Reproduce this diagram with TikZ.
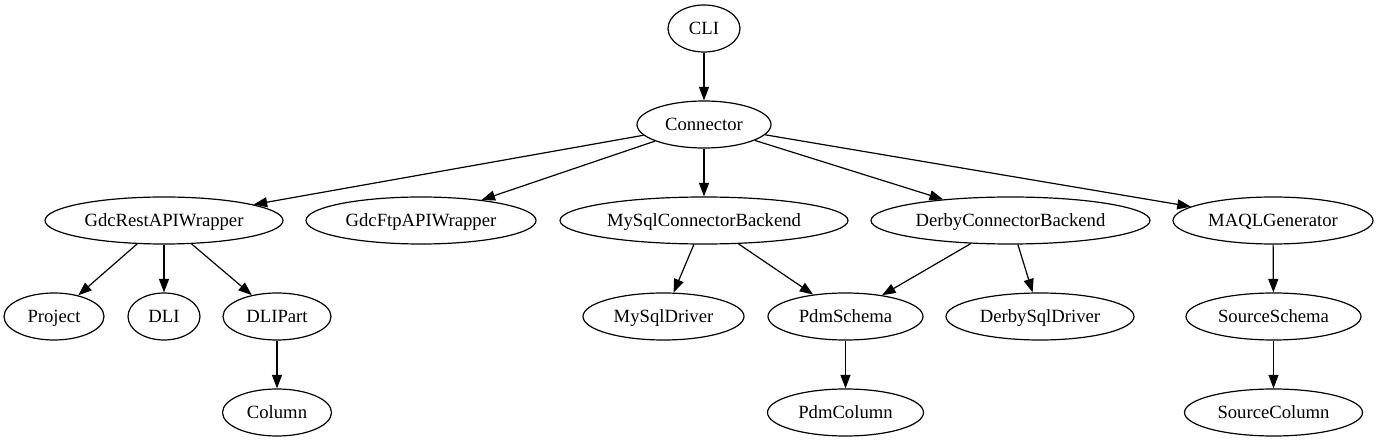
\documentclass[tikz,border=0pt]{standalone}
\usepackage{fontspec}
\setmainfont{Liberation Serif}
\usetikzlibrary{shapes.geometric,arrows.meta}
\tikzset{
  gnode/.style={draw, ellipse, line width=1.2pt, inner sep=0pt, minimum height=47pt,
    font=\rmfamily\fontsize{18.67}{22}\selectfont, text depth=0pt, yshift=0pt},
  gedge/.style={line width=1.2pt, -{Triangle[length=13.5pt,width=10pt]}}
}
\begin{document}
\begin{tikzpicture}[x=1pt,y=-1pt]
\useasboundingbox (0,0) rectangle (1379,443);
% rank 0/1
\node[gnode, minimum width=72pt]  (cli) at (704,28.5) {CLI};
\node[gnode, minimum width=134pt] (con) at (704,124.5) {Connector};
% rank 2
\node[gnode, minimum width=238pt] (rest) at (164,220.5) {GdcRestAPIWrapper};
\node[gnode, minimum width=230pt] (ftp) at (421,220.5) {GdcFtpAPIWrapper};
\node[gnode, minimum width=288pt] (mys) at (704,220.5) {MySqlConnectorBackend};
\node[gnode, minimum width=279pt] (der) at (1010.5,220.5) {DerbyConnectorBackend};
\node[gnode, minimum width=200pt] (maql) at (1273,220.5) {MAQLGenerator};
% rank 3
\node[gnode, minimum width=100pt] (proj) at (54,316.5) {Project};
\node[gnode, minimum width=72pt]  (dli) at (164,316.5) {DLI};
\node[gnode, minimum width=108pt] (dlip) at (277,316.5) {DLIPart};
\node[gnode, minimum width=161pt] (mysd) at (663.5,316.5) {MySqlDriver};
\node[gnode, minimum width=155pt] (pdms) at (845.5,316.5) {PdmSchema};
\node[gnode, minimum width=188pt] (dsd) at (1040,316.5) {DerbySqlDriver};
\node[gnode, minimum width=175pt] (srcs) at (1273.5,316.5) {SourceSchema};
% rank 4
\node[gnode, minimum width=109pt] (col) at (277,412.5) {Column};
\node[gnode, minimum width=156pt] (pdmc) at (845.5,412.5) {PdmColumn};
\node[gnode, minimum width=178pt] (srcc) at (1273.5,412.5) {SourceColumn};
% edges
\draw[gedge] (cli) -- (con);
\draw[gedge] (con) -- (rest);
\draw[gedge] (con) -- (ftp);
\draw[gedge] (con) -- (mys);
\draw[gedge] (con) -- (der);
\draw[gedge] (con) -- (maql);
\draw[gedge] (rest) -- (proj);
\draw[gedge] (rest) -- (dli);
\draw[gedge] (rest) -- (dlip);
\draw[gedge] (dlip) -- (col);
\draw[gedge] (mys) -- (mysd);
\draw[gedge] (mys) -- (pdms);
\draw[gedge] (der) -- (pdms);
\draw[gedge] (der) -- (dsd);
\draw[gedge] (pdms) -- (pdmc);
\draw[gedge] (maql) -- (srcs);
\draw[gedge] (srcs) -- (srcc);
\end{tikzpicture}
\end{document}
